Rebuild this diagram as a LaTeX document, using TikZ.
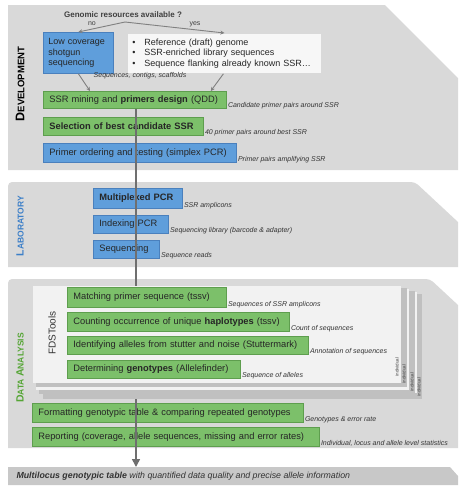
\documentclass[tikz,border=0pt]{standalone}
\usepackage{fontspec}
\setmainfont{Liberation Sans}
\usetikzlibrary{calc,positioning,arrows.meta}

\definecolor{panelgray}{HTML}{D9D9D9}
\definecolor{bargray}{HTML}{C8C8C8}
\definecolor{boxgreen}{HTML}{7CC06A}
\definecolor{edgegreen}{HTML}{5E9E4E}
\definecolor{boxblue}{HTML}{5F9EDB}
\definecolor{edgeblue}{HTML}{4A80BD}
\definecolor{labblue}{HTML}{3C7FC8}
\definecolor{datagreen}{HTML}{55A535}
\definecolor{trunkgray}{HTML}{6F6F6F}
\definecolor{sheetgray}{HTML}{C0C0C0}
\definecolor{sheetwhite}{HTML}{F2F2F2}

\tikzstyle{box}       = [anchor=north west, inner xsep=6pt, inner ysep=0pt, align=left, font=\fontsize{9.3}{10.5}\selectfont, text=black!85, line width=0.8pt]
\tikzstyle{greenbox}  = [box, fill=boxgreen, draw=edgegreen]
\tikzstyle{bluebox}   = [box, fill=boxblue, draw=edgeblue]
\tikzstyle{anno}      = [anchor=west, yshift=3.5pt, inner sep=1pt, font=\fontsize{7}{7}\selectfont\itshape, text=black!80]
\tikzstyle{arrow}     = [line width=0.9pt, draw=gray, -{Stealth[length=4pt,width=4pt]}]
\tikzstyle{section}   = [rotate=90, font=\bfseries]
\tikzstyle{sheetlab}  = [rotate=90, inner sep=0pt, font=\fontsize{4.5}{4.5}\selectfont, text=black!75]

\begin{document}
\begin{tikzpicture}[x=1pt,y=-1pt]
    \useasboundingbox (0,0) rectangle (466,488);

    % panels
    \fill[panelgray] (8,5) -- (385,5) -- (458,78) -- (458,170) -- (8,170) -- cycle;
    \fill[panelgray, rounded corners=4pt] (8,267) -- (8,182) -- (415,182) [sharp corners] -- (458,222) -- (458,267) -- cycle;
    \fill[panelgray, rounded corners=4pt] (8,448) -- (8,279) -- (430,279) [sharp corners] -- (458,305) -- (458,448) -- cycle;
    \fill[bargray] (8,467) -- (450,467) -- (458,476) -- (458,485) -- (8,485) -- cycle;
    \coordinate (outbar) at (8,467);

    % section titles
    \node[section] (dev) at (20,84) {{\fontsize{12.5}{12}\selectfont D}{\fontsize{9.5}{9}\selectfont EVELOPMENT}};
    \node[section, text=labblue] (lab) at (20,226) {{\fontsize{10.5}{12}\selectfont L}{\fontsize{8.5}{9}\selectfont ABORATORY}};
    \node[section, text=datagreen] (data) at (20,368) {{\fontsize{10.5}{12}\selectfont D}{\fontsize{8.5}{9}\selectfont ATA }{\fontsize{10.5}{12}\selectfont A}{\fontsize{8.5}{9}\selectfont NALYSIS}};

    % development
    \node[font=\fontsize{8}{8}\selectfont\bfseries, text=black!75] (question) at (123,15) {Genomic resources available ?};
    \node[font=\fontsize{7}{7}\selectfont, text=black!75] (no) at (92,24) {no};
    \node[font=\fontsize{7}{7}\selectfont, text=black!75] (yes) at (195,24) {yes};
    \coordinate (fork) at (125,22);

    \node[bluebox, font=\fontsize{9}{10.5}\selectfont, inner xsep=5pt, text width=60pt, minimum height=41pt] (lowcov) at (43,32) {Low coverage\\shotgun\\sequencing};
    \node[box, font=\fontsize{9}{10.5}\selectfont, fill=white!97!black, draw=black!15, text width=184pt, inner xsep=5pt, minimum height=40pt] (known) at (127,33)
        {\makebox[12pt][l]{\textbullet}Reference (draft) genome\\
         \makebox[12pt][l]{\textbullet}SSR-enriched library sequences\\
         \makebox[12pt][l]{\textbullet}Sequence flanking already known SSR\ldots};
    \node[greenbox, text width=171pt, minimum height=17pt] (ssr) at (43,91) {SSR mining and \textbf{primers design} (QDD)};
    \node[greenbox, text width=148pt, minimum height=18pt] (select) at (43,117) {\textbf{Selection of best candidate SSR}};
    \node[bluebox, text width=181pt, minimum height=19pt] (order) at (43,143) {Primer ordering and testing (simplex PCR)};

    \draw[arrow] (fork) -- (lowcov.north);
    \draw[arrow] (fork) -- (known.north);
    \draw[arrow] (lowcov.south) -- ($(ssr.north west)+(47,0)$);
    \draw[arrow] ($(known.south)+(-1,0)$) -- ($(ssr.north east)+(-16,0)$);
    \node[anno, anchor=center, yshift=0pt] (contigs) at (140,79) {Sequences, contigs, scaffolds};

    % laboratory
    \node[bluebox, text width=77pt, minimum height=20pt] (mplex) at (93,188) {\textbf{Multiplexed PCR}};
    \node[bluebox, text width=63pt, minimum height=18pt] (index) at (93,215) {Indexing PCR};
    \node[bluebox, text width=54pt, minimum height=18pt] (seq) at (93,240) {Sequencing};

    % data analysis, after the tools
    \node[greenbox, text width=259pt, minimum height=19pt] (format) at (32,403) {Formatting genotypic table \& comparing repeated genotypes};
    \node[greenbox, text width=275pt, minimum height=19pt] (report) at (32,427) {Reporting (coverage, allele sequences, missing and error rates)};

    % main line
    \coordinate (trunk) at ($(ssr.south west)+(93,0)$);
    \draw[trunkgray, line width=1.5pt, -{Triangle[length=8pt,width=8pt]}] (trunk) -- (trunk |- outbar);

    % stacked FDSTools sheets
    \foreach \l/\t/\r/\b/\sr/\sb in {40/292/417/393/422/399, 36/289/409/390/415/394, 33/286/401/383/407/387} {
        \fill[sheetgray] (\l+3,\t+2) rectangle (\sr,\sb);
        \fill[sheetwhite] (\l,\t) rectangle (\r,\b);
    }
    \foreach \x/\y in {397/367, 404/374, 412/382, 419/387}
        \node[sheetlab] (ind\x) at (\x,\y) {individual};
    \node[rotate=90, font=\fontsize{10}{10}\selectfont, text=black!80] (fdst) at (52,333) {FDSTools};

    \node[greenbox, text width=147pt, minimum height=20pt] (match) at (67,287) {Matching primer sequence (tssv)};
    \node[greenbox, text width=210pt, minimum height=19pt] (count) at (67,312) {Counting occurrence of unique \textbf{haplotypes} (tssv)};
    \node[greenbox, text width=229pt, minimum height=18pt] (ident) at (67,336) {Identifying alleles from stutter and noise (Stuttermark)};
    \node[greenbox, text width=161pt, minimum height=18pt] (determ) at (67,360) {Determining \textbf{genotypes} (Allelefinder)};

    % outputs of each step
    \node[anno] (a-ssr) at (ssr.south east) {Candidate primer pairs around SSR};
    \node[anno] (a-select) at (select.south east) {40 primer pairs around best SSR};
    \node[anno] (a-order) at (order.south east) {Primer pairs amplifying SSR};
    \node[anno] (a-mplex) at (mplex.south east) {SSR amplicons};
    \node[anno] (a-index) at (index.south east) {Sequencing library (barcode \& adapter)};
    \node[anno] (a-seq) at (seq.south east) {Sequence reads};
    \node[anno] (a-match) at (match.south east) {Sequences of SSR amplicons};
    \node[anno] (a-count) at (count.south east) {Count of sequences};
    \node[anno] (a-ident) at (ident.south east) {Annotation of sequences};
    \node[anno] (a-determ) at (determ.south east) {Sequence of alleles};
    \node[anno] (a-format) at (format.south east) {Genotypes \& error rate};
    \node[anno] (a-report) at (report.south east) {Individual, locus and allele level statistics};

    \node[anchor=west, font=\fontsize{8.8}{9}\selectfont\itshape, text=black!80] (out) at (13,476)
        {\textbf{Multilocus genotypic table} with quantified data quality and precise allele information};
\end{tikzpicture}
\end{document}
